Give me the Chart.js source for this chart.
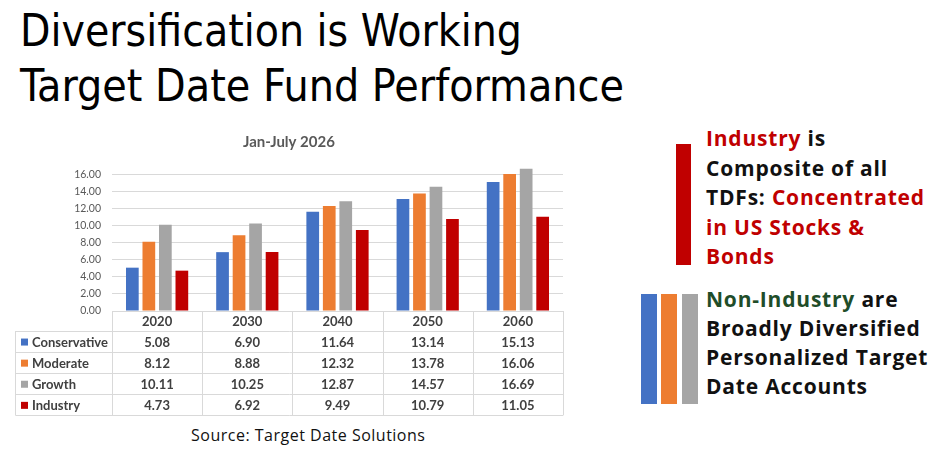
<!DOCTYPE html>
<html>
  <head>
    <title>Diversification is Working</title>
    <meta charset="utf-8">
    <script src="https://cdn.jsdelivr.net/npm/chart.js"></script>
    <style>
      body { margin: 0; background: #fff; width: 936px; height: 451px; position: relative; overflow: hidden; }
      .head { position: absolute; left: 20px; font-family: "Liberation Sans Narrow", "DejaVu Sans Condensed", sans-serif; font-size: 44px; color: #000; white-space: nowrap; transform-origin: left top; line-height: 50px; }
      #chartBox { position: absolute; left: 15px; top: 118px; width: 553px; height: 300px; }
      #source { position: absolute; left: 191px; top: 424px; font-family: "Open Sans", sans-serif; font-size: 16px; letter-spacing: 0.5px; color: #111; white-space: nowrap; }
      .note { position: absolute; left: 706px; font-family: "Open Sans", sans-serif; font-weight: bold; font-size: 21px; letter-spacing: 0.8px; color: #111; white-space: nowrap; }
      .note div { height: 29.6px; line-height: 29.6px; }
      .note.second div { height: 29px; line-height: 29px; }
      .red { color: #c00000; }
      .green { color: #1f4d29; }
      .bar { position: absolute; }
    </style>
  </head>
  <body>
    <div class="head" id="h1" style="top: 6px;">Diversification is Working</div>
    <div class="head" id="h2" style="top: 61px;">Target Date Fund Performance</div>

    <div id="chartBox"><canvas id="tdfChart"></canvas></div>
    <div id="source">Source: Target Date Solutions</div>

    <div class="bar" style="left: 676px; top: 144px; width: 15px; height: 121px; background: #c00000;"></div>
    <div class="note" style="top: 124px;">
      <div><span class="red">Industry</span> is</div>
      <div>Composite of all</div>
      <div>TDFs: <span class="red">Concentrated</span></div>
      <div class="red">in US Stocks &amp;</div>
      <div class="red">Bonds</div>
    </div>

    <div class="bar" style="left: 641px; top: 294px; width: 16px; height: 110px; background: #4472c4;"></div>
    <div class="bar" style="left: 661px; top: 294px; width: 16px; height: 110px; background: #ed7d31;"></div>
    <div class="bar" style="left: 682px; top: 294px; width: 16px; height: 110px; background: #a5a5a5;"></div>
    <div class="note second" style="top: 285px;">
      <div><span class="green">Non-Industry</span> are</div>
      <div>Broadly Diversified</div>
      <div>Personalized Target</div>
      <div>Date Accounts</div>
    </div>

    <script>
      // values as shown in the data table under the chart
      var years = ['2020', '2030', '2040', '2050', '2060'];
      var conservative = [5.08, 6.90, 11.64, 13.14, 15.13];
      var moderate = [8.12, 8.88, 12.32, 13.78, 16.06];
      var growth = [10.11, 10.25, 12.87, 14.57, 16.69];
      var industry = [4.73, 6.92, 9.49, 10.79, 11.05];
      var yTicks = [0, 2, 4, 6, 8, 10, 12, 14, 16];

      // squeeze the big headings to the width they have in the slide
      function fitWidth(id, target) {
        var el = document.getElementById(id);
        var w = el.getBoundingClientRect().width;
        el.style.transform = 'scaleX(' + (target / w) + ')';
      }
      fitWidth('h1', 502);
      fitWidth('h2', 604);

      var tableFont = 'bold 13px Lato, sans-serif';
      var tableText = '#404040';
      var tableLine = '#d9d9d9';

      // Excel style data table below the plot area
      var dataTable = {
        id: 'dataTable',
        afterDraw: function (chart) {
          var ctx = chart.ctx;
          var area = chart.chartArea;
          var xs = chart.scales.x;
          var colW = area.width / years.length;
          var top = area.bottom;
          var headH = 20;
          var rowH = 21.1;
          var nRows = chart.data.datasets.length;
          var bottom = top + headH + rowH * nRows;
          var left = 0.5;

          ctx.save();
          ctx.strokeStyle = tableLine;
          ctx.lineWidth = 1;
          ctx.beginPath();
          // header top
          ctx.moveTo(area.left, top + 0.5);
          ctx.lineTo(area.right, top + 0.5);
          // row lines
          for (var r = 0; r <= nRows; r++) {
            var y = Math.round(top + headH + rowH * r) + 0.5;
            ctx.moveTo(left, y);
            ctx.lineTo(area.right, y);
          }
          // column lines
          for (var c = 0; c <= years.length; c++) {
            var x = Math.round(area.left + colW * c) + 0.5;
            ctx.moveTo(x, top);
            ctx.lineTo(x, bottom);
          }
          ctx.moveTo(left, top + headH);
          ctx.lineTo(left, bottom);
          ctx.stroke();

          ctx.font = tableFont;
          ctx.fillStyle = tableText;
          ctx.textAlign = 'center';
          ctx.textBaseline = 'middle';
          years.forEach(function (yr, i) {
            ctx.fillText(yr, xs.getPixelForValue(i), top + headH / 2 + 1);
          });
          chart.data.datasets.forEach(function (ds, r) {
            var yMid = top + headH + rowH * r + rowH / 2 + 1;
            ctx.fillStyle = ds.backgroundColor;
            ctx.fillRect(6, yMid - 4, 7, 7);
            ctx.fillStyle = tableText;
            ctx.textAlign = 'left';
            ctx.fillText(ds.label, 17, yMid);
            ctx.textAlign = 'center';
            ds.data.forEach(function (v, i) {
              ctx.fillText(v.toFixed(2), xs.getPixelForValue(i), yMid);
            });
          });
          ctx.restore();
        }
      };

      var config = {
        type: 'bar',
        data: {
          labels: years,
          datasets: [
            { label: 'Conservative', data: conservative, backgroundColor: '#4472c4' },
            { label: 'Moderate', data: moderate, backgroundColor: '#ed7d31' },
            { label: 'Growth', data: growth, backgroundColor: '#a5a5a5' },
            { label: 'Industry', data: industry, backgroundColor: '#c00000' }
          ]
        },
        options: {
          responsive: true,
          maintainAspectRatio: false,
          animation: false,
          layout: {
            padding: { left: 0, right: 5, top: 0, bottom: 107 }
          },
          datasets: {
            bar: {
              categoryPercentage: 0.732,
              barPercentage: 0.77
            }
          },
          scales: {
            x: {
              display: false
            },
            y: {
              min: 0,
              max: 17,
              ticks: {
                padding: 11,
                color: '#595959',
                font: { family: 'Lato', size: 10.5 },
                callback: function (v) { return v.toFixed(2); }
              },
              afterBuildTicks: function (s) {
                s.ticks = yTicks.map(function (v) { return { value: v }; });
              },
              afterFit: function (s) {
                s.width = 97;
              },
              grid: {
                color: '#d9d9d9',
                drawTicks: false
              },
              border: { display: false }
            }
          },
          plugins: {
            legend: { display: false },
            tooltip: { enabled: false },
            title: {
              display: true,
              text: 'Jan-July 2026',
              color: '#595959',
              font: { family: 'Lato', size: 15, weight: 'bold' },
              padding: { top: 15, bottom: 15 }
            }
          }
        },
        plugins: [dataTable]
      };

      var tdfChart = new Chart(
        document.getElementById('tdfChart'),
        config
      );
    </script>
  </body>
</html>
